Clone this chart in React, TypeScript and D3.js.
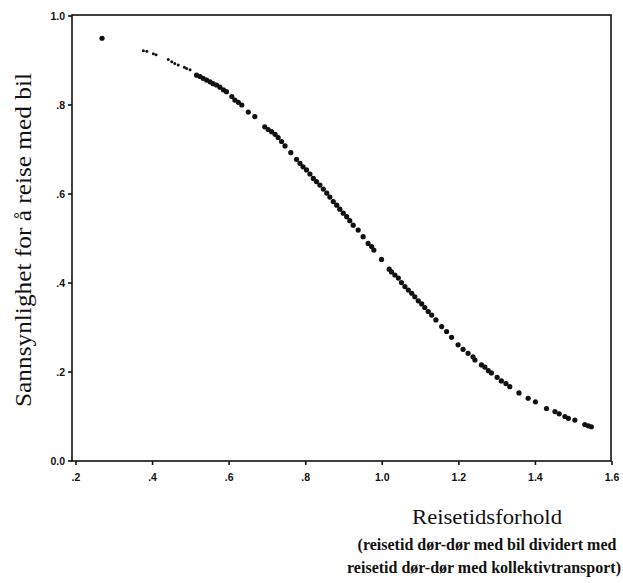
import React, { useEffect, useRef } from "react";
import * as d3 from "d3";

// travel time ratio (car / public transport)
const ratio = [
  0.268, 0.376, 0.385, 0.402, 0.409, 0.441, 0.45, 0.458, 0.467, 0.483, 0.489, 0.498,
  0.515, 0.524, 0.532, 0.541, 0.55, 0.558, 0.567, 0.576, 0.585, 0.593,
  0.607, 0.615, 0.624, 0.633, 0.65, 0.667, 0.693, 0.702, 0.711, 0.72, 0.728, 0.737, 0.746,
  0.761, 0.776, 0.785, 0.793, 0.802, 0.811, 0.82, 0.828, 0.837, 0.846, 0.855, 0.863,
  0.872, 0.881, 0.889, 0.898, 0.907, 0.915, 0.924, 0.937, 0.95, 0.963, 0.972, 0.978,
  0.998, 1.018, 1.024, 1.033, 1.042, 1.05, 1.059, 1.068, 1.077, 1.085, 1.094, 1.103,
  1.111, 1.12, 1.129, 1.14, 1.155, 1.168, 1.181, 1.198, 1.211, 1.224, 1.237, 1.242,
  1.259, 1.268, 1.277, 1.285, 1.3, 1.311, 1.323, 1.333, 1.357, 1.381, 1.4, 1.429,
  1.451, 1.462, 1.477, 1.486, 1.503, 1.529, 1.538, 1.546,
];

// probability of choosing car
const prob = [
  0.95, 0.922, 0.921, 0.915, 0.913, 0.902, 0.897, 0.893, 0.89, 0.885, 0.882, 0.879,
  0.867, 0.864, 0.86, 0.856, 0.852, 0.848, 0.845, 0.84, 0.834, 0.83,
  0.819, 0.811, 0.806, 0.8, 0.784, 0.774, 0.751, 0.745, 0.74, 0.734, 0.727, 0.718, 0.708,
  0.693, 0.678, 0.669, 0.661, 0.654, 0.645, 0.635, 0.628, 0.62, 0.611, 0.602, 0.593,
  0.583, 0.575, 0.566, 0.557, 0.549, 0.54, 0.53, 0.519, 0.504, 0.489, 0.482, 0.474,
  0.453, 0.431, 0.425, 0.418, 0.411, 0.401, 0.392, 0.384, 0.377, 0.369, 0.36, 0.353,
  0.345, 0.336, 0.328, 0.317, 0.302, 0.291, 0.278, 0.261, 0.251, 0.242, 0.234, 0.227,
  0.216, 0.211, 0.203, 0.198, 0.188, 0.18, 0.174, 0.167, 0.153, 0.141, 0.133, 0.118,
  0.111, 0.106, 0.1, 0.096, 0.092, 0.082, 0.079, 0.077,
];

const xTicks = [0.2, 0.4, 0.6, 0.8, 1.0, 1.2, 1.4, 1.6];
const xTickLabels = [".2", ".4", ".6", ".8", "1.0", "1.2", "1.4", "1.6"];
const yTicks = [0, 0.2, 0.4, 0.6, 0.8, 1.0];
const yTickLabels = ["0.0", ".2", ".4", ".6", ".8", "1.0"];

const App = () => {
  const ref = useRef<SVGSVGElement>(null);

  useEffect(() => {
    const svg = d3.select(ref.current);
    svg.selectAll("*").remove();

    const x = d3.scaleLinear().domain([0.2, 1.6]).range([76, 612]);
    const y = d3.scaleLinear().domain([0, 1]).range([461, 16]);
    const left = 72;
    const right = 611;
    const top = 15;
    const bottom = 461;

    // frame
    svg
      .append("rect")
      .attr("x", left)
      .attr("y", top)
      .attr("width", right - left)
      .attr("height", bottom - top)
      .attr("fill", "none")
      .attr("stroke", "#111")
      .attr("stroke-width", 1.6);

    // y ticks
    const yg = svg.append("g");
    yTicks.forEach((t, i) => {
      yg.append("line")
        .attr("x1", left - 4)
        .attr("x2", left)
        .attr("y1", y(t))
        .attr("y2", y(t))
        .attr("stroke", "#111")
        .attr("stroke-width", 1.6);
      yg.append("text")
        .attr("x", left - 7)
        .attr("y", y(t))
        .attr("dy", "0.35em")
        .attr("text-anchor", "end")
        .attr("font-family", "Liberation Sans, Arial, sans-serif")
        .attr("font-weight", "bold")
        .attr("font-size", 10.5)
        .attr("fill", "#111")
        .text(yTickLabels[i]);
    });

    // x ticks
    const xg = svg.append("g");
    xTicks.forEach((t, i) => {
      xg.append("line")
        .attr("x1", x(t))
        .attr("x2", x(t))
        .attr("y1", bottom)
        .attr("y2", bottom + 4)
        .attr("stroke", "#111")
        .attr("stroke-width", 1.6);
      xg.append("text")
        .attr("x", x(t))
        .attr("y", bottom + 20)
        .attr("text-anchor", "middle")
        .attr("font-family", "Liberation Sans, Arial, sans-serif")
        .attr("font-weight", "bold")
        .attr("font-size", 10.5)
        .attr("fill", "#111")
        .text(xTickLabels[i]);
    });

    // points
    svg
      .append("g")
      .selectAll("circle")
      .data(ratio.map((r, i) => [r, prob[i]]))
      .enter()
      .append("circle")
      .attr("cx", (d) => x(d[0]))
      .attr("cy", (d) => y(d[1]))
      .attr("r", (d) => (d[0] < 0.5 && d[0] > 0.3 ? 1.5 : 2.6))
      .attr("fill", "#111");

    // labels
    svg
      .append("text")
      .attr("transform", "translate(31,240) rotate(-90)")
      .attr("text-anchor", "middle")
      .attr("font-family", "Liberation Serif, Times New Roman, serif")
      .attr("font-size", 23)
      .attr("textLength", 334)
      .attr("lengthAdjust", "spacingAndGlyphs")
      .attr("fill", "#111")
      .text("Sannsynlighet for å reise med bil");

    svg
      .append("text")
      .attr("x", 487)
      .attr("y", 524)
      .attr("text-anchor", "middle")
      .attr("font-family", "Liberation Serif, Times New Roman, serif")
      .attr("font-size", 22)
      .attr("textLength", 150)
      .attr("lengthAdjust", "spacingAndGlyphs")
      .attr("fill", "#111")
      .text("Reisetidsforhold");

    svg
      .append("text")
      .attr("x", 487)
      .attr("y", 550)
      .attr("text-anchor", "middle")
      .attr("font-family", "Liberation Serif, Times New Roman, serif")
      .attr("font-weight", "bold")
      .attr("font-size", 16)
      .attr("fill", "#111")
      .text("(reisetid dør-dør med bil dividert med");

    svg
      .append("text")
      .attr("x", 484)
      .attr("y", 573)
      .attr("text-anchor", "middle")
      .attr("font-family", "Liberation Serif, Times New Roman, serif")
      .attr("font-weight", "bold")
      .attr("font-size", 16)
      .attr("fill", "#111")
      .text("reisetid dør-dør med kollektivtransport)");
  }, []);

  return (
    <svg
      ref={ref}
      width={623}
      height={583}
      style={{ position: "absolute", left: 0, top: 0, background: "#fff" }}
    ></svg>
  );
};

export default App;
